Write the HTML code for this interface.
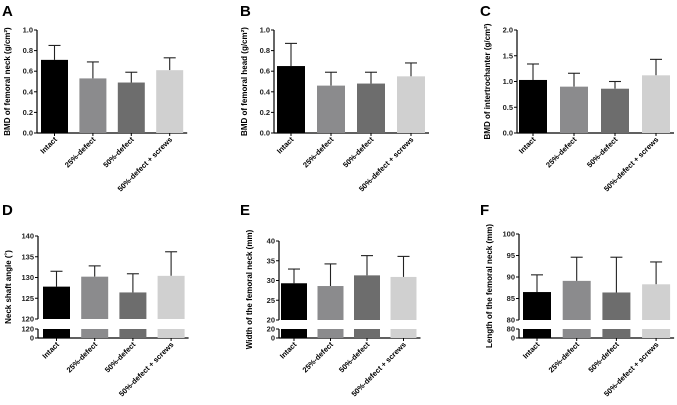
<!DOCTYPE html>
<html><head><meta charset="utf-8"><style>
body{margin:0;background:#fff;}
svg{display:block;font-family:"Liberation Sans",sans-serif;}
</style></head><body>
<svg id="fig" width="677" height="405"></svg>
<script>
const categories=["Intact","25%-defect","50%-defect","50%-defect + screws"];
const colors=["#000000","#8b8b8d","#6d6d6d","#d0d0d0"];
const aMeans=[0.71,0.53,0.49,0.61]; const aTops=[0.85,0.69,0.59,0.73];
const bMeans=[0.65,0.46,0.48,0.55]; const bTops=[0.87,0.59,0.59,0.68];
const cMeans=[1.03,0.90,0.86,1.12]; const cTops=[1.34,1.16,1.00,1.43];
const dMeans=[127.8,130.2,126.4,130.4]; const dTops=[131.5,132.8,130.9,136.2];
const eMeans=[29.3,28.6,31.3,30.9]; const eTops=[32.9,34.2,36.3,36.1];
const fMeans=[86.5,89.1,86.4,88.3]; const fTops=[90.5,94.6,94.6,93.5];
const aTicks=[0,0.2,0.4,0.6,0.8,1.0]; const aTickLabels=["0.0","0.2","0.4","0.6","0.8","1.0"];
const cTicks=[0,0.5,1.0,1.5,2.0]; const cTickLabels=["0.0","0.5","1.0","1.5","2.0"];
const dTicks=[120,125,130,135,140];
const eTicks=[20,25,30,35,40];
const fTicks=[80,85,90,95,100];

const NS="http://www.w3.org/2000/svg";
const svg=document.getElementById('fig');
function mk(tag,attrs,parent,text){const e=document.createElementNS(NS,tag);for(const k in attrs)e.setAttribute(k,attrs[k]);if(text!==undefined)e.textContent=text;(parent||svg).appendChild(e);return e;}

const panels=[
 {id:"a",letter:"A",lx:2,ly:16,ax:37,top:30,bot:133,min:0,max:1,ticks:aTicks,tl:aTickLabels,x0:41,bw:27,sp:38.4,means:aMeans,tops:aTops,title:"BMD of femoral neck (g/cm²)",broken:false},
 {id:"b",letter:"B",lx:240,ly:16,ax:274,top:30,bot:133,min:0,max:1,ticks:aTicks,tl:aTickLabels,x0:277,bw:28,sp:40,means:bMeans,tops:bTops,title:"BMD of femoral head (g/cm²)",broken:false},
 {id:"c",letter:"C",lx:480,ly:16,ax:517,top:30,bot:133,min:0,max:2,ticks:cTicks,tl:cTickLabels,x0:519,bw:28,sp:41,means:cMeans,tops:cTops,title:"BMD of intertrochanter (g/cm²)",broken:false},
 {id:"d",letter:"D",lx:2,ly:215,ax:38,top:236,bot:319,min:120,max:140,ticks:dTicks,tl:dTicks.map(String),x0:43,bw:27,sp:38.2,means:dMeans,tops:dTops,title:"Neck shaft angle (˚)",broken:true},
 {id:"e",letter:"E",lx:240,ly:215,ax:279,top:241,bot:320,min:20,max:40,ticks:eTicks,tl:eTicks.map(String),x0:281,bw:26,sp:36.5,means:eMeans,tops:eTops,title:"Width of the femoral neck (mm)",broken:true},
 {id:"f",letter:"F",lx:480,ly:215,ax:519,top:234,bot:320,min:80,max:100,ticks:fTicks,tl:fTicks.map(String),x0:523,bw:28,sp:39.7,means:fMeans,tops:fTops,title:"Length of the femoral neck (mm)",broken:true}
];

panels.forEach(p=>{
 const g=mk('g',{});
 
 
 const y=v=>p.bot-(v-p.min)/(p.max-p.min)*(p.bot-p.top);
 const L=mk('text',{x:p.lx,y:p.ly,'font-size':15,'font-weight':'bold'},g,p.letter);
 
 
 const xEnd=p.x0+3*p.sp+p.bw+4;
 const baseY=p.broken?338:p.bot;
 const ya=mk('line',{x1:p.ax,y1:p.top,x2:p.ax,y2:p.bot,stroke:'#000','stroke-width':1.2},g);
 
 
 p.ticks.forEach((t,i)=>{
  mk('line',{x1:p.ax-3,y1:y(t),x2:p.ax,y2:y(t),stroke:'#000','stroke-width':1},g);
  const tx=mk('text',{x:p.ax-4,y:y(t)+2.5,'font-size':7.5,'font-weight':'bold','text-anchor':'end',fill:'#222'},g,p.tl[i]);
  
  
 });
 if(p.broken){
  mk('line',{x1:p.ax,y1:329,x2:p.ax,y2:338,stroke:'#000','stroke-width':1.2},g);
  mk('line',{x1:p.ax-3,y1:329,x2:p.ax,y2:329,stroke:'#000'},g);
  mk('line',{x1:p.ax-3,y1:338,x2:p.ax,y2:338,stroke:'#000'},g);
  const t1=mk('text',{x:p.ax-4,y:331.5,'font-size':7.5,'font-weight':'bold','text-anchor':'end',fill:'#222'},g,String(p.min));
  
  
  const t0=mk('text',{x:p.ax-4,y:340.5,'font-size':7.5,'font-weight':'bold','text-anchor':'end',fill:'#222'},g,"0");
  
  
 }
 const xa=mk('line',{x1:p.ax,y1:baseY,x2:xEnd,y2:baseY,stroke:'#000','stroke-width':1.2},g);
 
 
 const cy=(p.top+baseY)/2, tx=p.ax-27;
 const tt=mk('text',{x:tx,y:cy,'font-size':8,'font-weight':'bold','text-anchor':'middle',transform:`rotate(-90 ${tx} ${cy})`},g,p.title);
 
 
 p.means.forEach((m,i)=>{
  const bx=p.x0+i*p.sp, cx=bx+p.bw/2;
  mk('line',{x1:cx,y1:y(m),x2:cx,y2:y(p.tops[i]),stroke:'#222','stroke-width':1.1},g);
  mk('line',{x1:cx-6,y1:y(p.tops[i]),x2:cx+6,y2:y(p.tops[i]),stroke:'#222','stroke-width':1.1},g);
  const r=mk('rect',{x:bx,y:y(m),width:p.bw,height:p.bot-y(m),fill:colors[i]},g);
  
  
  if(p.broken){
   const r2=mk('rect',{x:bx,y:329,width:p.bw,height:9,fill:colors[i]},g);
   
   
  }
  mk('line',{x1:cx,y1:baseY,x2:cx,y2:baseY+3,stroke:'#000'},g);
  const lx=cx+3, ly=baseY+7;
  const lab=mk('text',{x:lx,y:ly,'font-size':7.5,'font-weight':'bold','text-anchor':'end',transform:`rotate(-45 ${lx} ${ly})`},g,categories[i]);
  
  
 });
});
</script>
</body></html>
